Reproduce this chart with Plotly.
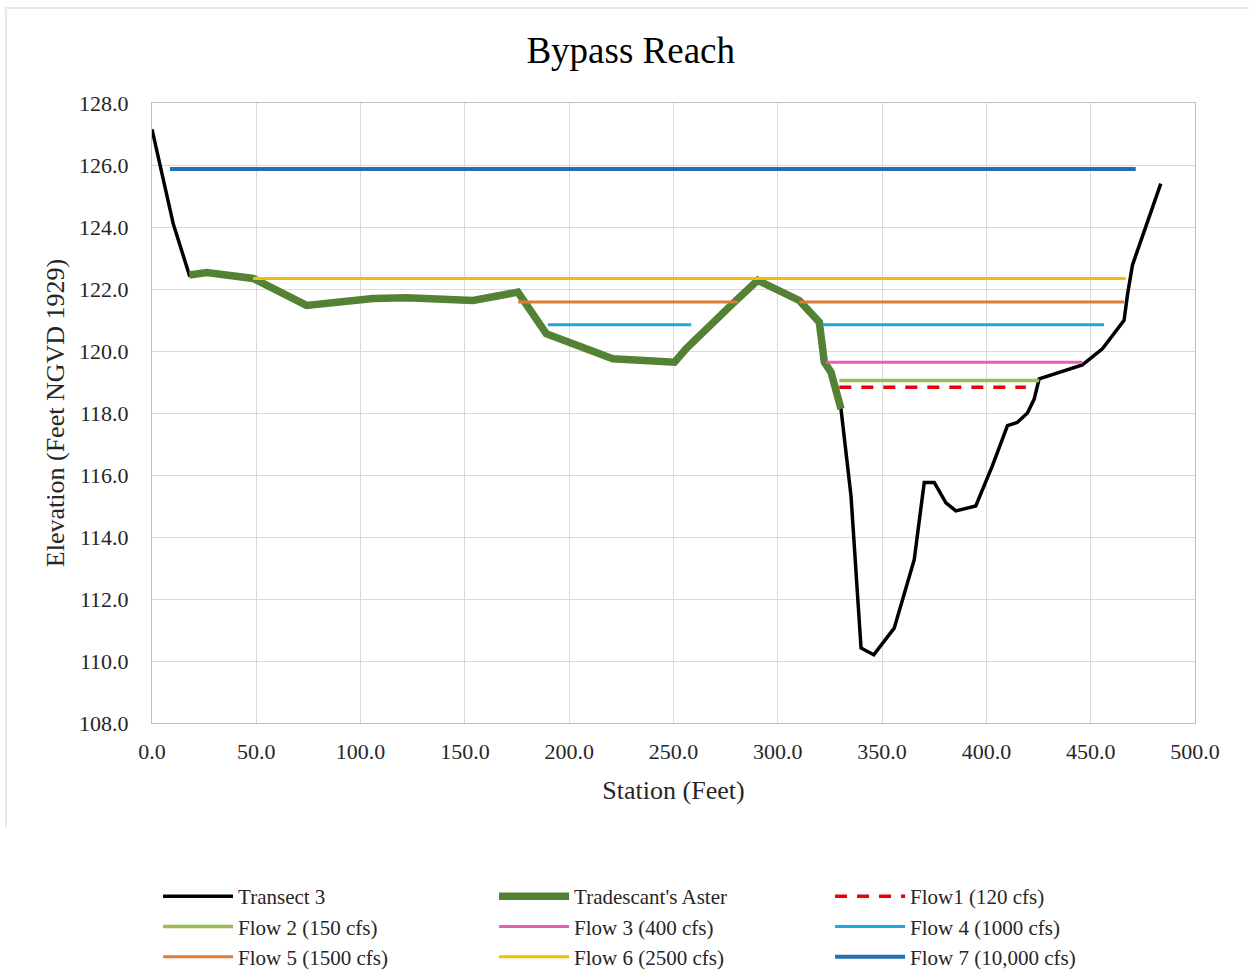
import plotly.graph_objects as go

# Ground profile along the transect (station ft, elevation ft NGVD 1929)
transect_station = [0.0, 10.2, 17.9, 26.2, 48.5, 74.1, 106.0, 122.0, 153.9, 175.4,
                    189.0, 220.9, 250.5, 256.0, 278.4, 290.4, 310.3, 319.9, 322.3,
                    325.5, 330.3, 335.1, 339.9, 346.0, 355.8, 365.4, 370.2, 375.0,
                    380.6, 385.4, 394.9, 402.9, 410.1, 414.9, 419.7, 422.9, 425.3,
                    446.0, 455.6, 466.0, 467.6, 470.0, 483.6]
transect_elev = [127.15, 124.1, 122.45, 122.53, 122.34, 121.47, 121.69, 121.72, 121.63, 121.9,
                 120.56, 119.75, 119.64, 120.07, 121.53, 122.28, 121.63, 120.93, 119.64,
                 119.32, 118.13, 115.32, 110.42, 110.2, 111.06, 113.27, 115.76, 115.76,
                 115.1, 114.84, 115.0, 116.3, 117.59, 117.7, 118.0, 118.45, 119.1,
                 119.55, 120.07, 120.99, 121.8, 122.77, 125.4]

# Tradescant's Aster occurrence along the profile
aster_station = [17.9, 26.2, 48.5, 74.1, 106.0, 122.0, 153.9, 175.4, 189.0, 220.9,
                 250.5, 256.0, 278.4, 290.4, 310.3, 319.9, 322.3, 325.5, 330.3]
aster_elev = [122.45, 122.53, 122.34, 121.47, 121.69, 121.72, 121.63, 121.9, 120.56, 119.75,
              119.64, 120.07, 121.53, 122.28, 121.63, 120.93, 119.64, 119.32, 118.13]

# Water surface for each flow: name, elevation, wetted extents (start, end)
flow_names = ["Flow1 (120 cfs)", "Flow 2 (150 cfs)", "Flow 3 (400 cfs)", "Flow 4 (1000 cfs)",
              "Flow 5 (1500 cfs)", "Flow 6 (2500 cfs)", "Flow 7 (10,000 cfs)"]
flow_elev = [118.83, 119.05, 119.64, 120.85, 121.58, 122.34, 125.87]
flow_extents = [
    [(329.5, 418.9)],
    [(329.5, 425.3)],
    [(323.1, 446.0)],
    [(189.8, 258.5), (321.5, 456.4)],
    [(175.5, 280.8), (310.3, 466.0)],
    [(48.5, 466.8)],
    [(8.6, 471.6)],
]
flow_colors = ["#E8000B", "#9BBB59", "#E75DB5", "#1EA6E0", "#E07B39", "#F5BD00", "#2470B0"]
flow_widths = [3.5, 3.5, 3, 3, 3, 3, 4]
flow_dash = ["12px,10px", "solid", "solid", "solid", "solid", "solid", "solid"]

x_ticks = [0, 50, 100, 150, 200, 250, 300, 350, 400, 450, 500]
y_ticks = [108, 110, 112, 114, 116, 118, 120, 122, 124, 126, 128]

SERIF = "Liberation Serif, Times New Roman, serif"

fig = go.Figure()
fig.add_trace(go.Scatter(x=transect_station, y=transect_elev, mode="lines",
                         name="Transect 3", line=dict(color="black", width=3.5)))
fig.add_trace(go.Scatter(x=aster_station, y=aster_elev, mode="lines",
                         name="Tradescant's Aster", line=dict(color="#548235", width=7.5)))

for name, level, ext, col, w, dash in zip(flow_names, flow_elev, flow_extents,
                                          flow_colors, flow_widths, flow_dash):
    xs, ys = [], []
    for a, b in ext:
        if xs:
            xs.append(None)
            ys.append(None)
        xs += [a, b]
        ys += [level, level]
    fig.add_trace(go.Scatter(x=xs, y=ys, mode="lines", name=name,
                             line=dict(color=col, width=w, dash=dash)))

grid = "#D9D9D9"
fig.update_layout(
    width=1249, height=972,
    margin=dict(l=152, r=54, t=103, b=249, autoexpand=False),
    paper_bgcolor="white", plot_bgcolor="white",
    font=dict(family=SERIF, color="#262626"),
    title=dict(text="Bypass Reach", x=0.505, xref="container", xanchor="center",
               y=0.948, yref="container", yanchor="middle",
               font=dict(family=SERIF, size=37, color="black")),
    xaxis=dict(range=[0, 500], tickvals=x_ticks, tickformat=".1f",
               showgrid=True, gridcolor=grid, gridwidth=1,
               showline=True, linecolor="#BFBFBF", mirror=True,
               zeroline=False, ticks="", ticklabelstandoff=9,
               tickfont=dict(family=SERIF, size=22, color="#262626"),
               title=dict(text="Station (Feet)", standoff=17,
                          font=dict(family=SERIF, size=26, color="#262626"))),
    yaxis=dict(range=[108, 128], tickvals=y_ticks, tickformat=".1f",
               showgrid=True, gridcolor=grid, gridwidth=1,
               showline=True, linecolor="#BFBFBF", mirror=True,
               zeroline=False, ticks="", ticklabelstandoff=18,
               tickfont=dict(family=SERIF, size=22, color="#262626"),
               title=dict(text="Elevation (Feet NGVD 1929)", standoff=6,
                          font=dict(family=SERIF, size=26, color="#262626"))),
    legend=dict(orientation="h", x=0.0058, xanchor="left",
                y=1 - 876 / 972, yref="container", yanchor="top",
                entrywidth=251, entrywidthmode="pixels", itemwidth=70,
                font=dict(family=SERIF, size=21, color="#262626"),
                bgcolor="rgba(0,0,0,0)", tracegroupgap=0),
    showlegend=True,
)

# Light chart-area border along the top and left edges
fig.add_shape(type="line", xref="paper", yref="paper",
              x0=(5 - 152) / 1043, x1=(1249 - 152) / 1043,
              y0=(723 - 8) / 620, y1=(723 - 8) / 620,
              line=dict(color="#E3E3E3", width=1.5))
fig.add_shape(type="line", xref="paper", yref="paper",
              x0=(6 - 152) / 1043, x1=(6 - 152) / 1043,
              y0=(723 - 8) / 620, y1=(723 - 827) / 620,
              line=dict(color="#E3E3E3", width=1.5))

fig.write_html("out.html")
